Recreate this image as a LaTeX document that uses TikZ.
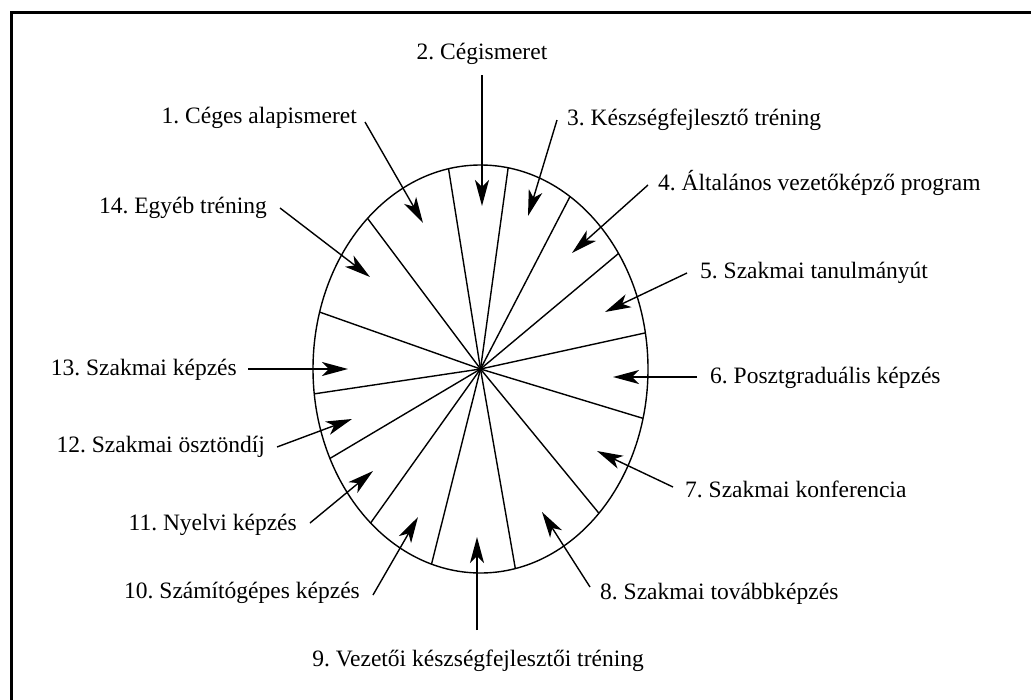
\documentclass[tikz,border=0pt]{standalone}
\usepackage{fontspec}
\setmainfont{Liberation Serif}
\usetikzlibrary{arrows.meta,calc}
\frenchspacing
\begin{document}
\begin{tikzpicture}[x=1pt,y=-1pt,
  lbl/.style={inner sep=0pt,font=\fontsize{23.5}{27}\selectfont},
  spoke/.style={line width=1.4pt},
  pointer/.style={line width=1.4pt,-{Stealth[length=26pt,width=14pt,inset=7pt]}}]
\useasboundingbox (0,0) rectangle (1031,699);
\fill[white] (0,0) rectangle (1031,699);
% frame
\draw[line width=3pt] (11,702) -- (11,12) -- (1034,12);
% wheel
\coordinate (c) at (480.5,369);
\draw[spoke] (c) ellipse [x radius=167.5, y radius=204];
\foreach \a [count=\i] in {101,80.5,57.7,34.5,10.2,-14,-45,-78,-107,-131,-154,-173,163.8,132.4}
  \draw[spoke] (c) -- ($(c)+(-\a:167.5 and 204)$);
% labels
\node[lbl,anchor=base east] (l1) at (357,123) {1. Céges alapismeret};
\node[lbl,anchor=base] (l2) at (482,59) {2. Cégismeret};
\node[lbl,anchor=base west] (l3) at (567,125) {3. Készségfejlesztő tréning};
\node[lbl,anchor=base west] (l4) at (658,190) {4. Általános vezetőképző program};
\node[lbl,anchor=base west] (l5) at (700,278) {5. Szakmai tanulmányút};
\node[lbl,anchor=base west] (l6) at (710,383) {6. Posztgraduális képzés};
\node[lbl,anchor=base west] (l7) at (685,497) {7. Szakmai konferencia};
\node[lbl,anchor=base west] (l8) at (600,599) {8. Szakmai továbbképzés};
\node[lbl,anchor=base] (l9) at (478,666) {9. Vezetői készségfejlesztői tréning};
\node[lbl,anchor=base east] (l10) at (360,598) {10. Számítógépes képzés};
\node[lbl,anchor=base east] (l11) at (297,530) {11. Nyelvi képzés};
\node[lbl,anchor=base east] (l12) at (265,452) {12. Szakmai ösztöndíj};
\node[lbl,anchor=base east] (l13) at (237,375) {13. Szakmai képzés};
\node[lbl,anchor=base east] (l14) at (267,213) {14. Egyéb tréning};
% arrow ends
\coordinate (s1) at (365,122);  \coordinate (t1) at (423,223);
\coordinate (s2) at (482,75);   \coordinate (t2) at (482,206);
\coordinate (s3) at (557,120);  \coordinate (t3) at (528,216);
\coordinate (s4) at (648,185);  \coordinate (t4) at (572,253);
\coordinate (s5) at (687,273);  \coordinate (t5) at (605,312);
\coordinate (s6) at (697,377);  \coordinate (t6) at (613,377);
\coordinate (s7) at (673,487);  \coordinate (t7) at (597,451);
\coordinate (s8) at (590,587);  \coordinate (t8) at (542,512);
\coordinate (s9) at (477,630);  \coordinate (t9) at (477,537);
\coordinate (s10) at (373,595); \coordinate (t10) at (418,517);
\coordinate (s11) at (310,523); \coordinate (t11) at (373,471);
\coordinate (s12) at (277,447); \coordinate (t12) at (352,419);
\coordinate (s13) at (248,369); \coordinate (t13) at (348,369);
\coordinate (s14) at (280,208); \coordinate (t14) at (370,277);
\foreach \i in {1,...,14}
  \draw[pointer] (s\i) -- (t\i);
\end{tikzpicture}
\end{document}
